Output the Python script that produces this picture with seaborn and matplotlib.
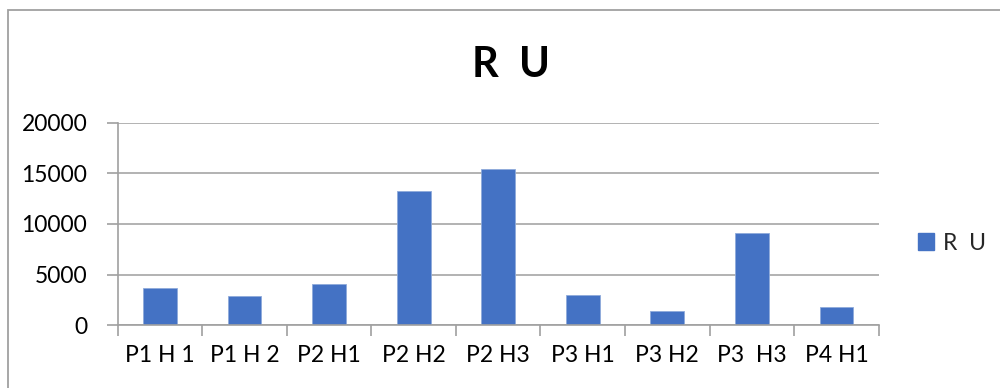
import matplotlib
matplotlib.use("Agg")
import matplotlib.pyplot as plt
from matplotlib.patches import Patch, Rectangle
from matplotlib.ticker import FixedLocator
import seaborn as sns
import pandas as pd

# Data
categories = ["P1 H 1", "P1 H 2", "P2 H1", "P2 H2", "P2 H3",
              "P3 H1", "P3 H2", "P3  H3", "P4 H1"]
values = [3650, 2860, 4110, 13250, 15430, 2990, 1410, 9110, 1810]
series_name = "R  U"
y_ticks = [0, 5000, 10000, 15000, 20000]

sns.set_theme(style="white")
plt.rcParams["font.family"] = ["Lato", "DejaVu Sans"]

BAR = "#4472C4"
GRID = "#a6a6a6"
AXIS = "#a0a0a0"

df = pd.DataFrame({"cat": categories, "val": values})

fig = plt.figure(figsize=(10, 3.88), dpi=100)
ax = fig.add_axes([0.1177, 0.1616, 0.761, 0.5222])

sns.barplot(data=df, x="cat", y="val", color=BAR, width=0.4,
            saturation=1, ax=ax, edgecolor="#8eaadb", linewidth=0.6)

ax.set_xlim(-0.5, len(categories) - 0.5)
ax.set_ylim(0, 20000)
ax.set_yticks(y_ticks)
ax.set_yticklabels([str(t) for t in y_ticks])
ax.set_xlabel("")
ax.set_ylabel("")

ax.yaxis.grid(True, color=GRID, linewidth=1.2)
ax.set_axisbelow(True)
ax.xaxis.grid(False)

for s in ["top", "right"]:
    ax.spines[s].set_visible(False)
for s in ["left", "bottom"]:
    ax.spines[s].set_color(AXIS)
    ax.spines[s].set_linewidth(1.2)

# category boundary tick marks on x, label ticks hidden
ax.xaxis.set_minor_locator(FixedLocator([i - 0.5 for i in range(len(categories) + 1)]))
ax.tick_params(axis="x", which="major", length=0, pad=14, labelsize=16.5,
               labelcolor="black")
ax.tick_params(axis="x", which="minor", length=8, width=1.2, color=AXIS,
               direction="out", bottom=True)
ax.tick_params(axis="y", which="major", length=8, width=1.2, color=AXIS,
               direction="out", left=True, pad=14, labelsize=16.5,
               labelcolor="black")

# title
fig.text(0.511, 1 - 77.3 / 388, "R  U", ha="center", va="baseline",
         fontsize=30, fontweight="bold", color="black")

# legend
ax.legend(handles=[Patch(facecolor=BAR, edgecolor=BAR)], labels=[series_name],
          loc="center left", bbox_to_anchor=(0.918, 1 - 243 / 388),
          bbox_transform=fig.transFigure, frameon=False, fontsize=16.5,
          handlelength=0.7, handleheight=0.7, handletextpad=0.4,
          borderpad=0, borderaxespad=0)

# chart area border
fig.patches.append(Rectangle((0.008, -0.1), 1.1, 1.1 - 10 / 388,
                             transform=fig.transFigure, fill=False,
                             edgecolor=AXIS, linewidth=1.3))

fig.savefig("out.png", dpi=100, facecolor="white")
